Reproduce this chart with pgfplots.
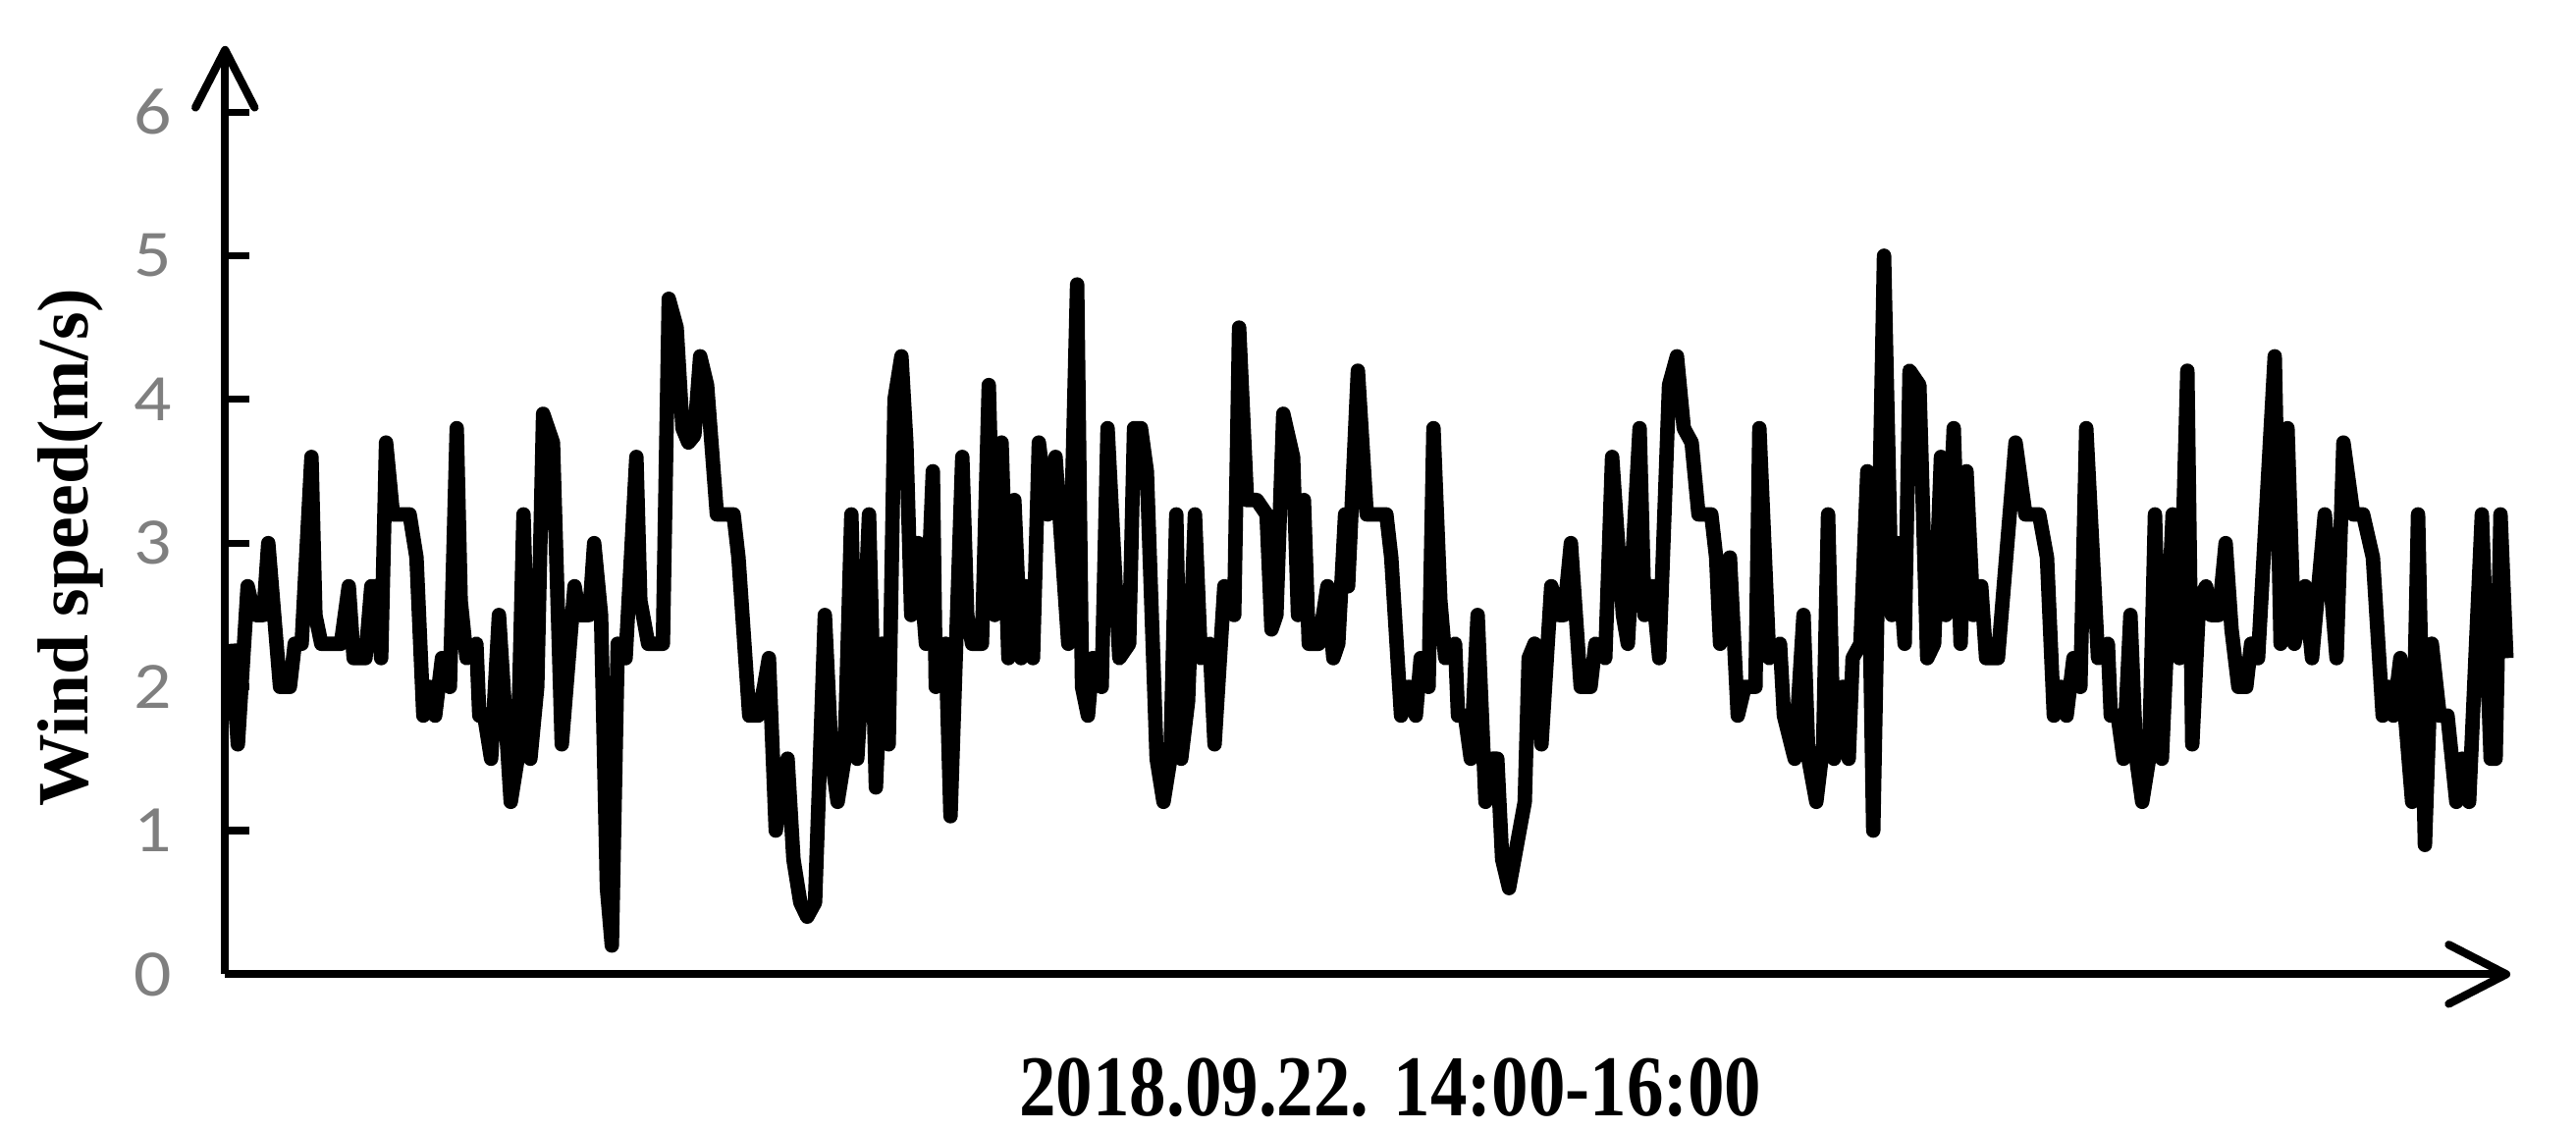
\documentclass[border=0pt]{standalone}
\usepackage{fontspec}
\usepackage{pgfplots}
\pgfplotsset{compat=1.18}
\usetikzlibrary{arrows.meta}
\newfontfamily\xlabfont[FakeStretch=0.85]{Liberation Serif}
\newfontfamily\ylabfont{Liberation Serif}
\newfontfamily\tickfont[FakeStretch=1.12]{Carlito}
\definecolor{tickgray}{HTML}{7F7F7F}

\begin{document}
\begin{tikzpicture}
\path[use as bounding box] (0,0) rectangle (15.68cm,6.88cm);
\begin{axis}[
    at={(1.37cm,0.95cm)}, anchor=south west,
    scale only axis,
    width=13.91cm, height=5.65cm,
    axis lines=left,
    axis line style={line width=1.4pt, black,
        -{Straight Barb[length=3.5mm,width=3.6mm,round]}},
    xmin=229, xmax=2557,
    ymin=0, ymax=6.46,
    xtick=\empty,
    ytick={0,1,2,3,4,5,6},
    tick align=inside,
    major tick length=0.15cm,
    tick style={line width=1.2pt, black},
    /pgf/number format/assume math mode=true,
    yticklabel style={font=\tickfont\fontsize{11.5}{13}\selectfont,
        text=tickgray, anchor=east, xshift=-0.2cm},
    xlabel={2018.09.22. 14:00-16:00},
    ylabel={Wind speed(m/s)},
    xlabel style={font=\xlabfont\bfseries\fontsize{15}{18}\selectfont,
        at={(axis description cs:0.51,-0.122)}, anchor=center},
    ylabel style={font=\ylabfont\bfseries\fontsize{12.5}{15}\selectfont,
        at={(axis description cs:-0.0676,0.46)}, anchor=center},
    clip=false,
]
\addplot[black, line width=2.5pt, line join=round, no markers] coordinates {
(235,2.3) (242,1.6) (252,2.7) (257,2.55) (260,2.5) (268,2.5) (273,3.0)
(285,2.0) (295,2.0) (300,2.3) (307,2.3) (317,3.6) (321,2.5) (327,2.3)
(337,2.3) (347,2.3) (355,2.7) (360,2.2) (368,2.2) (372,2.2) (378,2.7)
(383,2.7) (388,2.2) (393,3.7) (400,3.2) (410,3.2) (417,3.2) (424,2.9)
(431,1.8) (437,2.0) (443,1.8) (450,2.2) (458,2.0) (465,3.8) (469,2.6)
(475,2.2) (485,2.3) (488,1.8) (493,1.8) (500,1.5) (508,2.5) (520,1.2)
(527,1.5) (533,3.2) (540,1.5) (547,2.0) (553,3.9) (563,3.7) (572,1.6)
(585,2.7) (590,2.5) (600,2.5) (605,3.0) (612,2.5) (618,0.6) (623,0.2)
(629,2.3) (637,2.2) (648,3.6) (652,2.6) (660,2.3) (668,2.3) (675,2.3)
(681,4.7) (689,4.5) (695,3.8) (701,3.7) (707,3.75) (713,4.3) (720,4.1)
(730,3.2) (740,3.2) (747,3.2) (752,2.9) (757,2.4) (763,1.8) (772,1.8)
(778,2.0) (783,2.2) (790,1.0) (796,1.3) (802,1.5) (808,0.8) (815,0.5)
(822,0.4) (830,0.5) (840,2.5) (847,1.5) (853,1.2) (860,1.5) (867,3.2)
(873,1.5) (879,2.2) (885,3.2) (892,1.3) (898,2.3) (905,1.6) (911,4.0)
(918,4.3) (923,3.7) (928,2.5) (935,3.0) (943,2.3) (950,3.5) (953,2.0)
(963,2.3) (968,1.1) (980,3.6) (985,2.5) (990,2.3) (1000,2.3) (1007,4.1)
(1013,2.5) (1020,3.7) (1027,2.2) (1033,3.3) (1040,2.2) (1045,2.7)
(1052,2.2) (1058,3.7) (1067,3.2) (1075,3.6) (1088,2.3) (1097,4.8)
(1102,2.0) (1108,1.8) (1113,2.2) (1122,2.0) (1128,3.8) (1140,2.2)
(1150,2.3) (1155,3.8) (1162,3.8) (1168,3.5) (1178,1.5) (1185,1.2)
(1192,1.5) (1198,3.2) (1203,1.5) (1210,1.9) (1217,3.2) (1223,2.2)
(1232,2.3) (1237,1.6) (1247,2.7) (1257,2.5) (1262,4.5) (1270,3.3)
(1280,3.3) (1290,3.2) (1295,2.4) (1300,2.5) (1307,3.9) (1317,3.6)
(1322,2.5) (1328,3.3) (1333,2.3) (1343,2.3) (1352,2.7) (1358,2.2)
(1363,2.3) (1370,3.2) (1373,2.7) (1383,4.2) (1392,3.2) (1402,3.2)
(1412,3.2) (1417,2.9) (1427,1.8) (1435,2.0) (1442,1.8) (1447,2.2)
(1455,2.0) (1460,3.8) (1467,2.6) (1472,2.2) (1482,2.3) (1485,1.8)
(1492,1.8) (1498,1.5) (1505,2.5) (1513,1.2) (1520,1.5) (1525,1.5)
(1530,0.8) (1537,0.6) (1545,0.9) (1553,1.2) (1557,2.2) (1563,2.3)
(1570,1.6) (1580,2.7) (1588,2.5) (1593,2.5) (1600,3.0) (1610,2.0)
(1620,2.0) (1625,2.3) (1635,2.2) (1642,3.6) (1653,2.5) (1658,2.3)
(1670,3.8) (1675,2.5) (1683,2.7) (1690,2.2) (1700,4.1) (1708,4.3)
(1715,3.8) (1723,3.7) (1730,3.2) (1743,3.2) (1748,2.9) (1752,2.3)
(1762,2.9) (1770,1.8) (1777,2.0) (1788,2.0) (1792,3.8) (1802,2.2)
(1813,2.3) (1817,1.8) (1828,1.5) (1837,2.5) (1842,1.5) (1850,1.2)
(1857,1.6) (1862,3.2) (1868,1.5) (1877,2.0) (1883,1.5) (1887,2.2)
(1895,2.3) (1902,3.5) (1908,1.0) (1919,5.0) (1927,2.5) (1933,3.0)
(1940,2.3) (1945,4.2) (1955,4.1) (1963,2.2) (1970,2.3) (1977,3.6)
(1982,2.5) (1990,3.8) (1997,2.3) (2003,3.5) (2010,2.5) (2018,2.7)
(2023,2.2) (2030,2.2) (2035,2.2) (2053,3.7) (2063,3.2) (2070,3.2)
(2077,3.2) (2085,2.9) (2092,1.8) (2099,2.0) (2105,1.8) (2112,2.2)
(2119,2.0) (2125,3.8) (2137,2.2) (2147,2.3) (2150,1.8) (2157,1.8)
(2163,1.5) (2170,2.5) (2176,1.5) (2182,1.2) (2189,1.5) (2195,3.2)
(2202,1.5) (2213,3.2) (2220,2.2) (2228,4.2) (2233,1.6) (2240,2.6)
(2247,2.7) (2252,2.5) (2260,2.5) (2267,3.0) (2273,2.4) (2280,2.0)
(2288,2.0) (2293,2.3) (2300,2.2) (2317,4.3) (2323,2.3) (2330,3.8)
(2337,2.3) (2343,2.5) (2348,2.7) (2355,2.2) (2368,3.2) (2380,2.2)
(2387,3.7) (2397,3.2) (2407,3.2) (2417,2.9) (2427,1.8) (2433,2.0)
(2438,1.8) (2445,2.2) (2457,1.2) (2463,3.2) (2470,0.9) (2477,2.3)
(2485,1.8) (2493,1.8) (2502,1.2) (2508,1.5) (2515,1.2) (2528,3.2)
(2537,1.5) (2542,1.5) (2547,3.2) (2553,2.2)
};
\end{axis}
\end{tikzpicture}
\end{document}
